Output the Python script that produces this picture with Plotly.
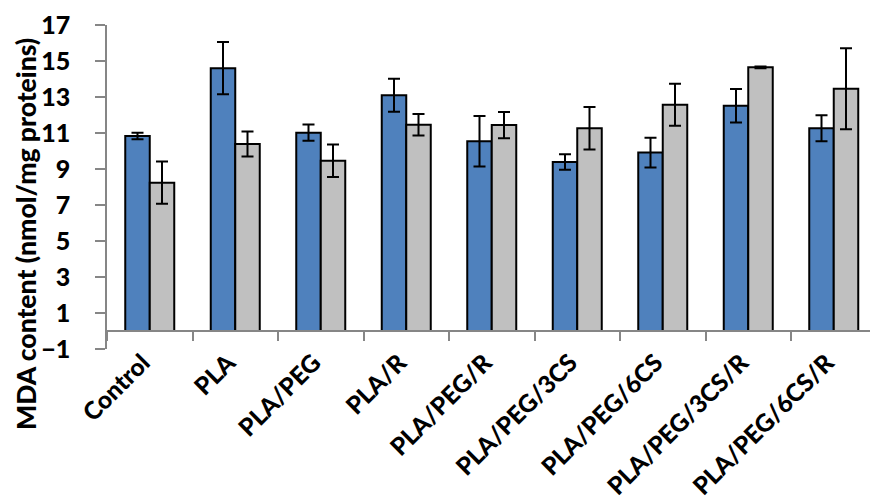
import plotly.graph_objects as go

# Groups and MDA measurements (mean ± error) for the two series
groups = ["Control", "PLA", "PLA/PEG", "PLA/R", "PLA/PEG/R", "PLA/PEG/3CS",
          "PLA/PEG/6CS", "PLA/PEG/3CS/R", "PLA/PEG/6CS/R"]
series_a = [10.83, 14.6, 11.02, 13.1, 10.54, 9.39, 9.91, 12.52, 11.26]
series_a_err = [0.18, 1.45, 0.45, 0.92, 1.4, 0.43, 0.82, 0.93, 0.72]
series_b = [8.24, 10.39, 9.46, 11.46, 11.44, 11.26, 12.57, 14.65, 13.46]
series_b_err = [1.17, 0.7, 0.9, 0.6, 0.73, 1.18, 1.17, 0.05, 2.25]
y_ticks = [-1, 1, 3, 5, 7, 9, 11, 13, 15, 17]

FONT = "Lato"
W, H = 870, 504
ML, MR, MT, MB = 107, 0, 25, 155
plot_w = W - ML - MR
plot_h = H - MT - MB
y_min, y_max = -1, 17
cat_px = 85.5

fig = go.Figure()
for vals, errs, color in [(series_a, series_a_err, "#4F81BD"),
                          (series_b, series_b_err, "#C0C0C0")]:
    fig.add_trace(go.Bar(
        x=groups, y=vals,
        marker=dict(color=color, line=dict(color="black", width=2)),
        error_y=dict(type="data", array=errs, visible=True,
                     color="black", thickness=2, width=6),
        showlegend=False,
    ))

fig.update_layout(
    width=W, height=H,
    margin=dict(l=ML, r=MR, t=MT, b=MB),
    paper_bgcolor="white", plot_bgcolor="white",
    barmode="group", bargap=0.427, bargroupgap=0,
    font=dict(family=FONT, color="black"),
    xaxis=dict(
        type="category",
        range=[-0.5, -0.5 + plot_w / cat_px],
        anchor="free",
        position=(0 - y_min) / (y_max - y_min),
        showline=True, linecolor="#868686", linewidth=1.5,
        ticks="outside", tickson="boundaries", ticklen=9,
        tickcolor="#868686", tickwidth=1.5,
        tickangle=-45,
        ticklabelstandoff=7, ticklabelshift=-7,
        tickfont=dict(family=FONT, size=24.5, color="black", weight=900),
        showgrid=False, zeroline=False,
    ),
    yaxis=dict(
        range=[y_min, y_max],
        tickvals=y_ticks,
        showline=True, linecolor="#868686", linewidth=1.5,
        ticks="outside", ticklen=10, tickcolor="#868686", tickwidth=1.5,
        ticklabelstandoff=20,
        tickfont=dict(family=FONT, size=25, color="black", weight=900),
        showgrid=False, zeroline=False,
    ),
    annotations=[dict(
        text="MDA content (nmol/mg proteins)",
        xref="paper", yref="paper",
        x=(26 - ML) / plot_w, y=(H - MB - 234) / plot_h,
        xanchor="center", yanchor="middle",
        textangle=-90, showarrow=False,
        font=dict(family=FONT, size=26.5, color="black", weight=900),
    )],
)

fig.write_html("out.html")
